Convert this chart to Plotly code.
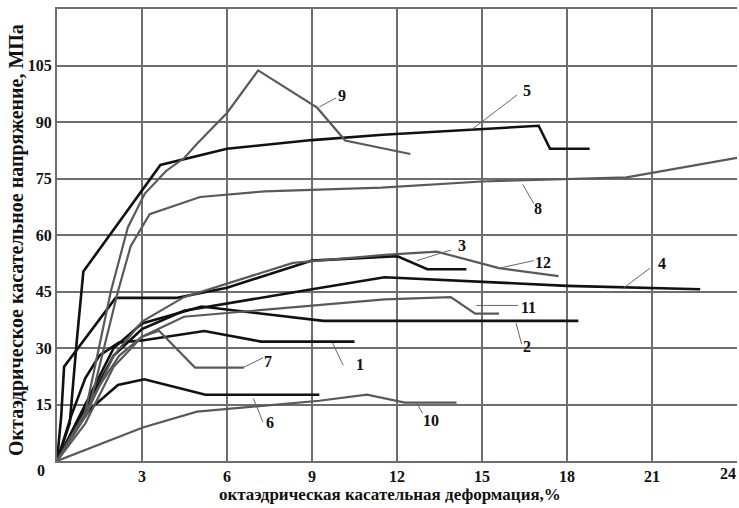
import plotly.graph_objects as go

# ---- data (strain %, stress MPa) ----
c1_x = [0, 0.5, 1.0, 1.5, 2.2, 3.0, 5.2, 7.2, 10.5]
c1_y = [0, 12, 22, 28, 31.5, 32, 34.5, 31.7, 31.7]
c2_x = [0, 1.0, 2.0, 3.0, 5.1, 9.4, 18.4]
c2_y = [0, 15, 30, 36.5, 41, 37.2, 37.2]
c3_x = [0, 0.15, 0.25, 2.07, 4.2, 6.0, 9.0, 12.0, 13.07, 14.45]
c3_y = [0, 12, 25, 43.3, 43.3, 46, 53.2, 54.4, 50.9, 50.9]
c4_x = [0, 1.0, 2.0, 3.0, 4.48, 9.0, 11.56, 18.0, 22.7]
c4_y = [0, 14, 28, 35, 39.9, 45.6, 48.8, 46.5, 45.6]
c5_x = [0, 0.45, 0.7, 0.93, 3.65, 6.0, 9.0, 11.5, 17.0, 17.4, 18.8]
c5_y = [0, 10, 32, 50.3, 78.6, 82.9, 85.2, 86.6, 89, 82.9, 82.9]
c6_x = [0, 0.6, 1.2, 2.15, 3.08, 5.24, 9.26]
c6_y = [0, 8, 14, 20.2, 21.7, 17.6, 17.6]
c7_x = [0, 0.8, 1.5, 2.2, 3.0, 3.6, 4.87, 6.6]
c7_y = [0, 10, 20, 28, 33, 34.6, 24.8, 24.8]
c8_x = [0, 1.1, 2.15, 2.6, 3.27, 5.05, 7.33, 11.45, 15.0, 19.4, 20.1, 24.0]
c8_y = [0, 13, 45, 57, 65.5, 70.1, 71.6, 72.6, 74.2, 75.3, 75.3, 80.5]
c9_x = [0, 1.0, 1.9, 2.5, 3.1, 3.85, 4.5, 4.95, 6.0, 7.1, 9.18, 10.17, 12.47]
c9_y = [0, 13, 45, 62, 71, 77, 80.5, 84.3, 92.4, 103.7, 93.8, 85.1, 81.5]
c10_x = [0, 3.03, 4.94, 9.26, 10.94, 12.28, 14.1]
c10_y = [0, 8.9, 13.1, 16, 17.6, 15.5, 15.5]
c11_x = [0, 1.0, 2.0, 3.0, 4.48, 11.56, 13.9, 14.76, 15.6]
c11_y = [0, 10, 25, 33, 38.3, 42.9, 43.5, 39.1, 39.1]
c12_x = [0, 1.0, 2.0, 3.0, 4.48, 8.33, 11.56, 13.4, 15.6, 17.7]
c12_y = [0, 12, 28, 37, 43.5, 52.6, 54.7, 55.6, 51.2, 49.1]

labels = ["1", "2", "3", "4", "5", "6", "7", "8", "9", "10", "11", "12"]
label_x = [10.7, 16.6, 14.3, 21.34, 16.6, 7.5, 7.45, 16.99, 10.06, 13.2, 16.63, 17.15]
label_y = [25.6, 30.3, 57.1, 52.4, 98.3, 10.1, 26.4, 67.0, 97.0, 10.8, 40.7, 52.6]
# leader lines: start on curve -> end near label
lead_x0 = [9.73, 16.2, 12.7, 19.99, 14.62, 6.93, 6.57, 16.44, 9.26, 12.69, 14.8, 15.6]
lead_y0 = [31.3, 36.6, 53.2, 45.9, 87.9, 16.6, 24.8, 73.4, 94.0, 15.5, 41.3, 51.2]
lead_x1 = [10.1, 16.4, 13.9, 20.93, 16.24, 7.27, 7.27, 16.83, 9.85, 12.9, 16.27, 16.83]
lead_y1 = [25.4, 31.0, 56.0, 51.2, 97.2, 10.3, 27.4, 68.3, 96.4, 12.7, 41.3, 53.2]

x_ticks = [3, 6, 9, 12, 15, 18, 21, 24]
y_ticks = [15, 30, 45, 60, 75, 90, 105]

BLACK = "#111111"
GRAY = "#595959"

curves = [
    (c1_x, c1_y, BLACK), (c2_x, c2_y, BLACK), (c3_x, c3_y, BLACK),
    (c4_x, c4_y, BLACK), (c5_x, c5_y, BLACK), (c6_x, c6_y, BLACK),
    (c7_x, c7_y, GRAY), (c8_x, c8_y, GRAY), (c9_x, c9_y, GRAY),
    (c10_x, c10_y, GRAY), (c11_x, c11_y, GRAY), (c12_x, c12_y, GRAY),
]

fig = go.Figure()

for xs, ys, col in curves:
    fig.add_trace(go.Scatter(
        x=xs, y=ys, mode="lines",
        line=dict(color=col, width=2.6 if col == BLACK else 2.2),
        showlegend=False, hoverinfo="skip"))

for i in range(len(labels)):
    fig.add_trace(go.Scatter(
        x=[lead_x0[i], lead_x1[i]], y=[lead_y0[i], lead_y1[i]], mode="lines",
        line=dict(color="#666666", width=1), showlegend=False, hoverinfo="skip"))
    fig.add_annotation(x=label_x[i], y=label_y[i], text=labels[i], showarrow=False,
                       xanchor="center", yanchor="middle",
                       font=dict(family="Liberation Serif", size=16, color="#111111",
                                 weight="bold"))

serif_b = dict(family="Liberation Serif", size=16, color="#111111", weight="bold")

fig.update_layout(
    width=739, height=508,
    margin=dict(l=57, r=2, t=9, b=47, autoexpand=False),
    paper_bgcolor="white", plot_bgcolor="white",
    xaxis=dict(range=[0, 24], tickvals=x_ticks, ticktext=[str(v) for v in x_ticks],
               showgrid=True, gridcolor="#6e6e6e", gridwidth=1.6,
               showline=True, linecolor="#6e6e6e", linewidth=2, mirror=True,
               ticks="", tickfont=serif_b, zeroline=False, automargin=False),
    yaxis=dict(range=[0, 120], tickvals=y_ticks, ticktext=[str(v) for v in y_ticks],
               showgrid=True, gridcolor="#6e6e6e", gridwidth=1.6,
               showline=True, linecolor="#6e6e6e", linewidth=2,
               ticks="", tickfont=serif_b, zeroline=False, automargin=False),
)

# corner "0" and the "24" at the right edge
fig.add_annotation(xref="paper", yref="paper", x=-0.0235, y=-0.022, text="0",
                   xanchor="center", yanchor="middle", showarrow=False, font=serif_b)
fig.add_annotation(xref="x", yref="paper", x=24, y=-0.027, text="24",
                   xanchor="right", xshift=1, yanchor="middle", showarrow=False, font=serif_b)
fig.add_annotation(xref="paper", yref="paper", x=-0.0588, y=0.489,
                   text="Октаэдрическое касательное напряжение, МПа",
                   textangle=-90, showarrow=False, xanchor="center", yanchor="middle",
                   font=dict(family="Liberation Serif", size=20, color="#111111", weight="bold"))
fig.add_annotation(xref="paper", yref="paper", x=0.49, y=-0.0752,
                   text="октаэдрическая касательная деформация,%",
                   showarrow=False, xanchor="center", yanchor="middle",
                   font=dict(family="Liberation Serif", size=17, color="#111111", weight="bold"))

fig.write_html("out.html", config={"displayModeBar": False},
               post_script="document.body.style.margin='0px';")
